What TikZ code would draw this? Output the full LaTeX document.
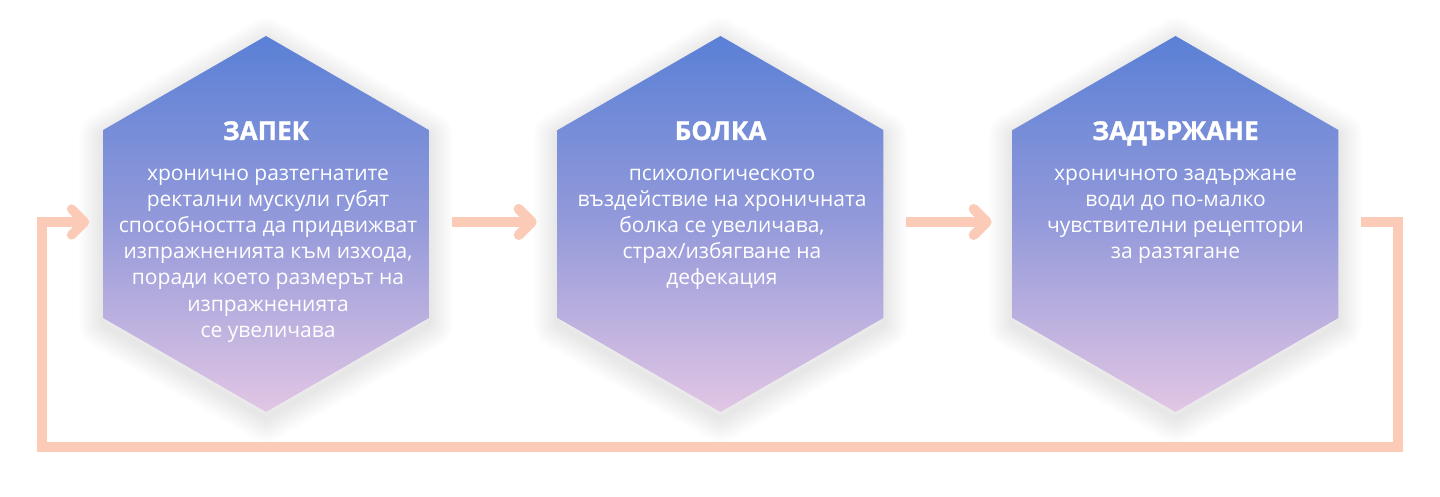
\documentclass[tikz,border=0pt]{standalone}
\usepackage{fontspec}
\setmainfont{Open Sans}
\newfontfamily\titlefont{Open Sans}[FakeBold=1.2]
\usetikzlibrary{shapes.geometric,arrows.meta}
\definecolor{hexTop}{RGB}{90,128,214}
\definecolor{hexMid}{RGB}{148,154,218}
\definecolor{hexBot}{RGB}{226,198,228}
\definecolor{peach}{RGB}{252,203,184}
\tikzset{
 hexagon/.style={regular polygon, regular polygon sides=6, regular polygon rotate=30,
   minimum size=376pt, inner sep=0pt, outer sep=0pt},
 hexfill/.style={hexagon, top color=hexTop, bottom color=hexBot, middle color=hexMid},
 hexshadow/.style={hexagon, draw=black, line join=round, draw opacity=0.007},
 hextitle/.style={text=white, font=\titlefont\bfseries\fontsize{26}{30}\selectfont,
   inner sep=0pt, anchor=base},
 hexbody/.style={text=white, align=center, font=\fontsize{21}{26.2}\selectfont,
   inner sep=0pt, anchor=base},
 conn/.style={draw=peach, line width=10pt, line join=miter,
   -{Straight Barb[round, length=13pt, width=26pt]}},
}
\begin{document}
\begin{tikzpicture}[x=1pt,y=-1pt]
\useasboundingbox (0,0) rectangle (1440,497);
% soft shadows
\foreach \cx [count=\i] in {266,720.5,1175.5}{
  \foreach \k in {1,...,12}{
    \node[hexshadow, line width=\k*4pt] (sh\i-\k) at (\cx,230) {};
  }
}
% hexagons
\node[hexfill] (h1) at (266,224) {};
\node[hexfill] (h2) at (720.5,224) {};
\node[hexfill] (h3) at (1175.5,224) {};
% titles
\node[hextitle] (t1) at (266,140) {ЗАПЕК};
\node[hextitle] (t2) at (720.5,140) {БОЛКА};
\node[hextitle] (t3) at (1175.5,140) {ЗАДЪРЖАНЕ};
% bodies (anchor = baseline of the last line)
\node[hexbody] (b1) at (268,337.2) {хронично разтегнатите\\ректални мускули губят\\способността да придвижват\\изпражненията към изхода,\\поради което размерът на\\изпражненията\\се увеличава};
\node[hexbody] (b2) at (722,284.8) {психологическото\\въздействие на хроничната\\болка се увеличава,\\страх/избягване на\\дефекация};
\node[hexbody] (b3) at (1175.5,258.6) {хроничното задържане\\води до по-малко\\чувствителни рецептори\\за разтягане};
% connectors
\draw[conn] ([xshift=23pt,yshift=2pt]h1.east) -- ([xshift=-21pt,yshift=2pt]h2.west);
\draw[conn] ([xshift=23pt,yshift=2pt]h2.east) -- ([xshift=-21pt,yshift=2pt]h3.west);
\coordinate (lr) at (1398,447);
\coordinate (ll) at (42,447);
\draw[conn, line width=9.3pt] ([xshift=23pt,yshift=2pt]h3.east) -| (lr) -- (ll) |- ([xshift=-14pt,yshift=2pt]h1.west);
\end{tikzpicture}
\end{document}
